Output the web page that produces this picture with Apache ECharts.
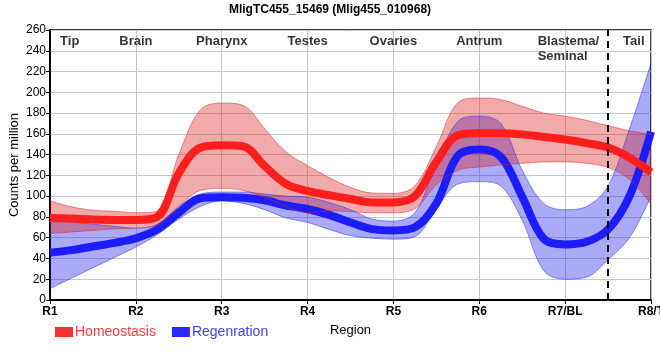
<!DOCTYPE html>
<html><head><meta charset="utf-8">
<script src="https://cdn.jsdelivr.net/npm/echarts@6/dist/echarts.min.js"></script>
<style>html,body{margin:0;padding:0;background:#fff}#c{width:660px;height:360px}</style>
</head><body><div id="c"></div>
<script>
// x positions (region index: R1=0 ... R8/T=7)
var xPos = [0,0.25,0.5,0.75,1,1.25,1.5,1.75,2,2.25,2.5,2.75,3,3.25,3.5,3.75,4,4.25,4.5,4.75,5,5.25,5.5,5.75,6,6.25,6.5,6.75,7];
var tickLabels = ['R1','R2','R3','R4','R5','R6','R7/BL','R8/T'];
var homeoMean  = [79,78.5,77.5,77,77,80,122,146.6,149,148,129,111.7,105,101,97.3,94,94,100,133,158.7,160.6,160.6,159.5,157,154.5,151,146.8,137,123];
var homeoUpper = [95.5,89.7,86.5,85.5,84,86,140,183,189.7,187.4,165,142.3,129.5,118,108.5,103,102.7,110,147.7,190,194.5,193,186.5,180,177,173,167.7,163,159.5];
var homeoLower = [64,65.5,67,68.5,69.5,72,90,105.5,107.5,105.5,99,90,84,86,85,84,84,88,111,125,128,130,131.6,133,133,131.6,127.5,116,92];
var regenMean  = [45.6,48,51.5,55,59.5,68,84,98,99,98.5,96,91,87.6,82,74.7,68.3,67,70,93,139,145,138,99.4,59,53.5,56,68,100,162];
var regenUpper = [77,75,73,71,69,73,90,102,104,104,102,100,99,94,87,78,76,84,131.6,172,177,170,125,93,87,90,110,165,228];
var regenLower = [11,21,31,41,51,63,78,90,95.5,93,87,79,74.7,68,62,59.5,58.6,61,88,111.6,114,109.7,76.8,28.4,20,22,39,60,100];
var regionNames = ['Tip','Brain','Pharynx','Testes','Ovaries','Antrum','Blastema/\nSeminal','Tail'];
var regionPos   = [0.23,1,2,3,4,5,5.68,6.8];
var boundaryPos = 6.5;

function diffs(u,l){ return u.map(function(v,i){ return v-l[i]; }); }
function isTick(i){ return Math.abs(xPos[i]-Math.round(xPos[i]))<1e-9; }

var redFill='rgba(215,20,20,0.36)', redEdge='rgba(215,40,40,0.5)';
var blueFill='rgba(20,20,235,0.36)', blueEdge='rgba(40,40,235,0.5)';
var SM=0.35;
function bandLow(name,stack,data,edge){
  return {name:name,type:'line',stack:stack,data:data,smooth:SM,symbol:'none',
    lineStyle:{color:edge,width:1},silent:true};
}
function bandUp(name,stack,data,edge,fill){
  return {name:name,type:'line',stack:stack,data:data,smooth:SM,symbol:'none',
    lineStyle:{color:edge,width:1},areaStyle:{color:fill,opacity:1},silent:true};
}

var chart = echarts.init(document.getElementById('c'));
chart.setOption({
  animation:false,
  textStyle:{fontFamily:'Liberation Sans, Arial, sans-serif'},
  title:{text:'MligTC455_15469 (Mlig455_010968)',left:'center',top:-1,
    textStyle:{fontSize:12,fontWeight:'bold',color:'#000'}},
  grid:{left:50,right:9,top:30,bottom:60,show:true,borderColor:'#000',borderWidth:1.5,
    containLabel:false,outerBoundsMode:'none'},
  legend:{left:50,top:320,itemWidth:18,itemHeight:10,itemGap:16,icon:'rect',
    data:[{name:'Homeostasis',textStyle:{color:'#ff3a3a'}},{name:'Regenration',textStyle:{color:'#4040ff'}}],
    textStyle:{fontSize:14,padding:[0,0,0,-3]}},
  xAxis:[{type:'category',boundaryGap:false,data:xPos.map(String),name:'Region',nameLocation:'middle',nameGap:24,
    nameMoveOverlap:false,nameTextStyle:{color:'#000',fontSize:13},
    axisLine:{lineStyle:{color:'#000',width:2}},
    axisTick:{show:true,length:4,interval:function(i){return isTick(i);},lineStyle:{color:'#000'}},
    axisLabel:{color:'#000',fontWeight:'bold',fontSize:12,margin:6,interval:function(i){return isTick(i);},
      formatter:function(v){return tickLabels[Math.round(+v)]||'';}},
    splitLine:{show:true,interval:function(i){return isTick(i);},lineStyle:{color:'#c8c8c8',width:1}}},
    {type:'value',min:0,max:7,show:false,position:'bottom'}],
  yAxis:{type:'value',min:0,max:260,interval:20,name:'Counts per million',nameLocation:'middle',nameGap:29,
    nameMoveOverlap:false,nameTextStyle:{color:'#000',fontSize:13},
    axisLine:{show:true,lineStyle:{color:'#000',width:2}},axisTick:{show:true,length:4,lineStyle:{color:'#000'}},
    axisLabel:{color:'#000',fontSize:12,margin:4},
    splitLine:{show:true,lineStyle:{color:'#c8c8c8',width:1}}},
  series:[
    bandLow('regenLow','b',regenLower,blueEdge),
    bandUp('regenBand','b',diffs(regenUpper,regenLower),blueEdge,blueFill),
    {name:'Regenration',type:'line',data:regenMean,smooth:SM,symbol:'none',
      lineStyle:{color:'#1c1cff',width:8},itemStyle:{color:'#2a2aff'}},
    bandLow('homeoLow','r',homeoLower,redEdge),
    bandUp('homeoBand','r',diffs(homeoUpper,homeoLower),redEdge,redFill),
    {name:'Homeostasis',type:'line',data:homeoMean,smooth:SM,symbol:'none',
      lineStyle:{color:'#ff1e1e',width:8},itemStyle:{color:'#ff3030'}},
    {name:'regions',type:'scatter',xAxisIndex:1,symbolSize:0,silent:true,
      markLine:{silent:true,symbol:'none',label:{show:false},
        lineStyle:{color:'#000',type:[7,5],width:2},data:[{xAxis:boundaryPos}]},
      data:regionNames.map(function(n,i){
        var left = n.indexOf('\n')>=0;
        return {value:[regionPos[i],256],label:{show:true,formatter:n,position:'inside',
          align:left?'left':'center',verticalAlign:'top',fontWeight:'bold',fontSize:13,color:'#000',lineHeight:15}};
      })}
  ]
});
</script></body></html>
